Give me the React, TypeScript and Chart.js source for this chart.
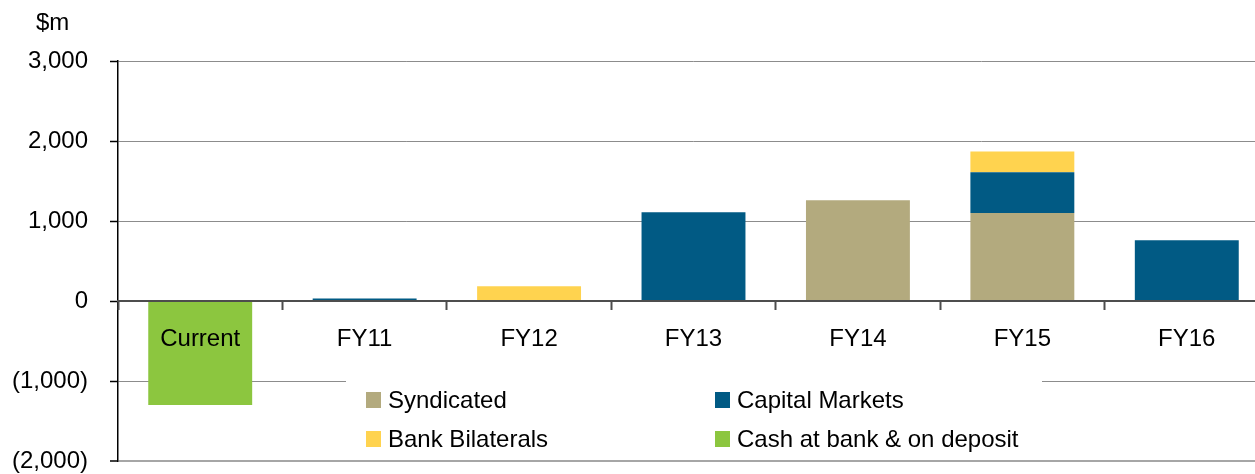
import React, { useEffect, useRef } from "react";
import { Chart, registerables } from "chart.js";

Chart.register(...registerables);

// ---- data ----
const categories = ["Current", "FY11", "FY12", "FY13", "FY14", "FY15", "FY16"];
const syndicated = [null, null, null, null, 1260, 1100, null];
const capitalMarkets = [null, 30, null, 1110, null, 510, 760];
const bankBilaterals = [null, null, 185, null, null, 260, null];
const cashAtBank = [-1300, null, null, null, null, null, null];
const yTickValues = [-2000, -1000, 0, 1000, 2000, 3000];
const unitLabel = "$m";
const seriesLabels = ["Syndicated", "Capital Markets", "Bank Bilaterals", "Cash at bank & on deposit"];

// ---- styles ----
const FONT = "'Liberation Sans', Arial, Helvetica, sans-serif";
const colors = ["#B3AA7E", "#015A84", "#FFD34F", "#8CC63F"];

const fmt = (v: number) => {
  const s = Math.abs(v).toLocaleString("en-US");
  return v < 0 ? `(${s})` : s;
};

const overlayPlugin = {
  id: "boxLegend",
  afterDraw(chart: any) {
    const ctx = chart.ctx as CanvasRenderingContext2D;
    ctx.save();
    // legend box
    ctx.fillStyle = "#ffffff";
    ctx.fillRect(346, 364, 696, 94);
    const cols = [366, 715];
    const rows = [392, 431];
    ctx.font = `24px ${FONT}`;
    ctx.textBaseline = "middle";
    ctx.textAlign = "left";
    chart.data.datasets.forEach((ds: any, i: number) => {
      const x = cols[i % 2];
      const y = rows[Math.floor(i / 2)];
      ctx.fillStyle = ds.backgroundColor;
      ctx.fillRect(x, y, 15, 16);
      ctx.fillStyle = "#000000";
      ctx.fillText(ds.label, x + 22, y + 9);
    });
    // unit label
    ctx.fillStyle = "#000000";
    ctx.fillText(unitLabel, 36, 23);
    ctx.restore();
  },
};

export default function App() {
  const ref = useRef<HTMLCanvasElement | null>(null);

  useEffect(() => {
    if (!ref.current) return;
    const seriesData = [syndicated, capitalMarkets, bankBilaterals, cashAtBank];
    const chart = new Chart(ref.current, {
      type: "bar",
      data: {
        labels: categories,
        datasets: seriesData.map((d, i) => ({
          label: seriesLabels[i],
          data: d,
          backgroundColor: colors[i],
          borderWidth: 0,
          barPercentage: 0.632,
          categoryPercentage: 1,
        })),
      },
      options: {
        responsive: false,
        animation: false,
        devicePixelRatio: 1,
        layout: { padding: { top: 61, bottom: 39, left: 0, right: 21 } },
        plugins: {
          legend: { display: false },
          tooltip: { enabled: false },
          title: { display: false },
        },
        scales: {
          x: {
            type: "category",
            stacked: true,
            position: { y: 0 } as any,
            offset: true,
            grid: {
              z: 1,
              offset: true,
              drawOnChartArea: false,
              drawTicks: true,
              tickLength: 8,
              tickColor: "#4d4d4d",
              tickWidth: 2,
            } as any,
            border: { z: 1, display: true, color: "#4d4d4d", width: 2 } as any,
            ticks: {
              z: 1,
              color: "#000000",
              font: { family: FONT, size: 24 },
              padding: 16,
              maxRotation: 0,
              autoSkip: false,
            },
          },
          y: {
            type: "linear",
            stacked: true,
            position: "left",
            min: -2000,
            max: 3000,
            afterBuildTicks: (scale: any) => {
              scale.ticks = yTickValues.map((v) => ({ value: v }));
            },
            afterFit: (scale: any) => {
              scale.width = 118;
            },
            grid: {
              color: (c: any) => (c.tick && c.tick.value === -2000 ? "#a6a6a6" : "#8c8c8c"),
              lineWidth: (c: any) => (c.tick && c.tick.value === -2000 ? 2 : 1),
              drawTicks: true,
              tickLength: 8,
              tickColor: "#000000",
              tickWidth: 1.5,
            } as any,
            border: { display: true, color: "#000000", width: 1.5 },
            ticks: {
              color: "#000000",
              font: { family: FONT, size: 24 },
              padding: 22,
              callback: (v: any) => fmt(Number(v)),
            },
          },
        },
      },
      plugins: [overlayPlugin],
    } as any);
    return () => chart.destroy();
  }, []);

  return (
    <div
      style={{
        position: "fixed",
        left: 0,
        top: 0,
        width: 1255,
        height: 474,
        overflow: "hidden",
        background: "#ffffff",
      }}
    >
      <canvas ref={ref} width={1290} height={500} style={{ display: "block", width: 1290, height: 500 }} />
    </div>
  );
}
